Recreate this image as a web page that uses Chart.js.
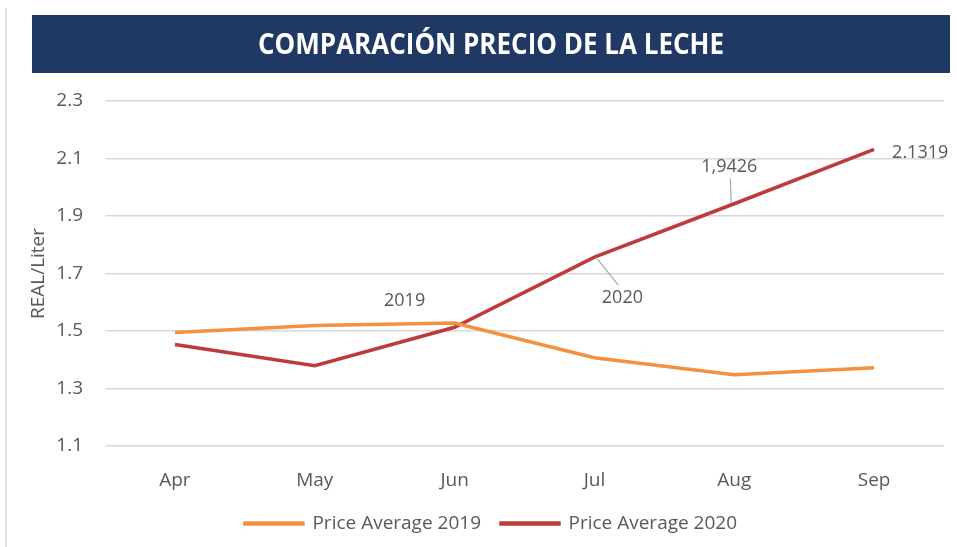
<!DOCTYPE html>
<html>
<head>
<meta charset="utf-8">
<script src="https://cdn.jsdelivr.net/npm/chart.js@4/dist/chart.umd.min.js"></script>
<style>
  html, body { margin: 0; padding: 0; background: #fff; }
  #wrap { width: 957px; height: 547px; position: relative; }
</style>
</head>
<body>
<div id="wrap"><canvas id="milk-chart" width="957" height="547"></canvas></div>
<script>
const months = ["Apr", "May", "Jun", "Jul", "Aug", "Sep"];
const price2019 = [1.495, 1.519, 1.528, 1.407, 1.348, 1.372];
const price2020 = [1.453, 1.379, 1.513, 1.757, 1.9426, 2.1319];
const yTicks = [1.1, 1.3, 1.5, 1.7, 1.9, 2.1, 2.3];

const titleText = "COMPARACIÓN PRECIO DE LA LECHE";
const textFont = "'Open Sans', 'DejaVu Sans', sans-serif";
const gray = "#595959";

// banner + left frame line
const bannerPlugin = {
  id: "banner",
  afterLayout(chart) {
    // legend sits a bit right of the canvas centre in the original
    chart.legend.left += 19;
    chart.legend.right += 19;
  },
  beforeDraw(chart) {
    const ctx = chart.ctx;
    ctx.save();
    ctx.fillStyle = "#fff";
    ctx.fillRect(0, 0, chart.width, chart.height);
    ctx.strokeStyle = "#d9d9d9";
    ctx.lineWidth = 1.5;
    ctx.beginPath();
    ctx.moveTo(6, 8);
    ctx.lineTo(6, 547);
    ctx.stroke();
    ctx.fillStyle = "#203864";
    ctx.fillRect(32, 15, 918, 58);
    ctx.fillStyle = "#fff";
    ctx.font = "bold 28px 'Liberation Sans Narrow', 'Open Sans', sans-serif";
    ctx.textAlign = "center";
    ctx.textBaseline = "middle";
    const w = ctx.measureText(titleText).width;
    const sx = 466 / w;
    ctx.translate(491, 46);
    ctx.scale(sx, 1);
    ctx.fillText(titleText, 0, 0);
    ctx.restore();
  }
};

// value / series labels with leader lines
const labelPlugin = {
  id: "pointLabels",
  afterDatasetsDraw(chart) {
    const ctx = chart.ctx;
    const p19 = chart.getDatasetMeta(0).data;
    const p20 = chart.getDatasetMeta(1).data;
    ctx.save();
    ctx.font = "18px " + textFont;
    ctx.fillStyle = gray;
    ctx.textBaseline = "middle";
    ctx.strokeStyle = "#a6a6a6";
    ctx.lineWidth = 1.2;

    ctx.textAlign = "center";
    ctx.fillText("2019", p19[2].x - 50, p19[2].y - 22);

    ctx.beginPath();
    ctx.moveTo(p20[3].x + 3, p20[3].y + 2);
    ctx.lineTo(p20[3].x + 24, p20[3].y + 28);
    ctx.stroke();
    ctx.fillText("2020", p20[3].x + 28, p20[3].y + 41);

    ctx.beginPath();
    ctx.moveTo(p20[4].x - 3, p20[4].y - 1);
    ctx.lineTo(p20[4].x - 4, p20[4].y - 25);
    ctx.stroke();
    ctx.fillText("1,9426", p20[4].x - 5, p20[4].y - 37);

    ctx.textAlign = "left";
    ctx.fillText("2.1319", p20[5].x + 18, p20[5].y + 4);
    ctx.restore();
  }
};

new Chart(document.getElementById("milk-chart"), {
  type: "line",
  data: {
    labels: months,
    datasets: [
      {
        label: "Price Average 2019",
        data: price2019,
        borderColor: "#f39140",
        backgroundColor: "#f39140",
        borderWidth: 3.5,
        pointRadius: 0,
        tension: 0,
      },
      {
        label: "Price Average 2020",
        data: price2020,
        borderColor: "#be3b3d",
        backgroundColor: "#be3b3d",
        borderWidth: 3.5,
        pointRadius: 0,
        tension: 0,
      },
    ],
  },
  options: {
    responsive: false,
    animation: false,
    layout: { padding: { left: 0, top: 101, right: 13, bottom: 4 } },
    plugins: {
      title: { display: false },
      tooltip: { enabled: false },
      legend: {
        position: "bottom",
        labels: {
          boxWidth: 58,
          boxHeight: 1,
          padding: 20,
          color: gray,
          font: { family: textFont, size: 19 },
        },
      },
    },
    scales: {
      x: {
        offset: true,
        grid: { display: false },
        border: { display: false },
        ticks: { color: gray, padding: 15, font: { family: textFont, size: 19 } },
        afterFit(scale) { scale.height = 48; },
      },
      y: {
        min: 1.1,
        max: 2.3,
        afterBuildTicks(scale) { scale.ticks = yTicks.map(v => ({ value: v })); },
        grid: { color: "#d9d9d9", lineWidth: 1.5, drawTicks: false },
        border: { display: false },
        ticks: {
          color: gray,
          padding: 22,
          font: { family: textFont, size: 19 },
          callback: v => v.toFixed(1),
        },
        title: {
          display: true,
          text: "REAL/Liter",
          color: gray,
          font: { family: textFont, size: 19 },
          padding: { top: 27, bottom: 0 },
        },
        afterFit(scale) { scale.width = 105; },
      },
    },
  },
  plugins: [bannerPlugin, labelPlugin],
});
</script>
</body>
</html>
